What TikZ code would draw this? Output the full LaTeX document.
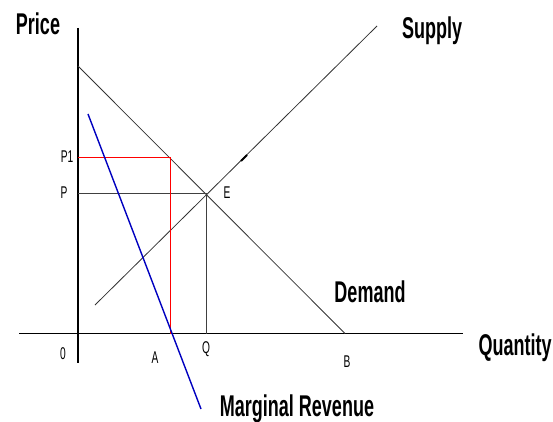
\documentclass[tikz,border=0pt]{standalone}
\usepackage{fontspec}
\setmainfont{Liberation Sans}[FakeStretch=0.6]
\begin{document}
\begin{tikzpicture}[x=1pt,y=-1pt,
  axis/.style={black,line width=1.1pt},
  curve/.style={black!80,line width=0.8pt},
  guide/.style={black!75,line width=1pt},
  redline/.style={red,line width=1pt},
  mrline/.style={blue!75!black,line width=1.4pt},
  biglabel/.style={font=\fontsize{30}{32}\selectfont\bfseries,inner sep=0pt},
  smalllabel/.style={font=\fontsize{17}{19}\selectfont,inner sep=0pt}]
\useasboundingbox (0,0) rectangle (553,422);
% points
\coordinate (ytop) at (78,28);
\coordinate (ybot) at (78,363);
\coordinate (xl) at (19,333.5);
\coordinate (xr) at (463,333.5);
\coordinate (dtop) at (78,66);
\coordinate (dB) at (345,333.5);
\coordinate (sbot) at (95,305);
\coordinate (stop) at (377,26);
\coordinate (E) at (206,193);
\coordinate (P) at (78,193);
\coordinate (Qpt) at (206,333.5);
\coordinate (P1) at (78,157);
\coordinate (R1) at (170,157);
\coordinate (Apt) at (170,333.5);
\coordinate (mrtop) at (88,114);
\coordinate (mrbot) at (201,409);
\coordinate (tk1) at (241,161);
\coordinate (tk2) at (247,155);
% axes
\draw[axis] (ytop) -- (ybot);
\draw[axis] (xl) -- (xr);
% demand and supply
\draw[curve] (dtop) -- (dB);
\draw[curve] (sbot) -- (stop);
\draw[black,line width=1.8pt] (tk1) -- (tk2);
% equilibrium guides
\draw[guide] (P) -- (E) -- (Qpt);
% red rectangle
\draw[redline] (P1) -- (R1) -- (Apt);
% marginal revenue
\draw[mrline] (mrtop) -- (mrbot);
% labels
\node[biglabel] (price) at (38,24) {Price};
\node[biglabel] (supply) at (432,31) {Supply};
\node[biglabel] (demand) at (370,292) {Demand};
\node[biglabel] (quantity) at (515,348) {Quantity};
\node[biglabel] (mr) at (297,409) {Marginal Revenue};
\node[smalllabel] (lP1) at (67,157) {P1};
\node[smalllabel] (lP) at (64,193) {P};
\node[smalllabel] (lE) at (227,193) {E};
\node[smalllabel] (l0) at (63,354) {0};
\node[smalllabel] (lA) at (155,358) {A};
\node[smalllabel] (lQ) at (206,349) {Q};
\node[smalllabel] (lB) at (347,362) {B};
\end{tikzpicture}
\end{document}
